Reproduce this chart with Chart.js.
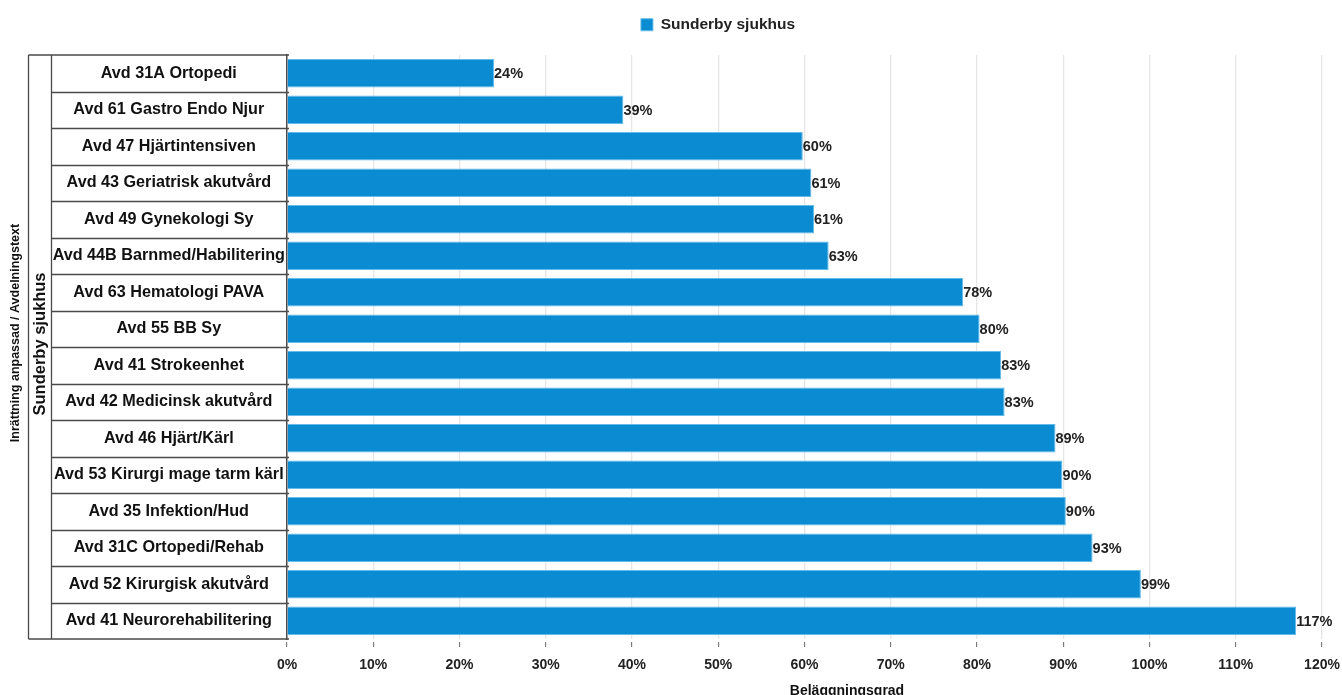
<!DOCTYPE html>
<html><head><meta charset="utf-8">
<script src="https://cdn.jsdelivr.net/npm/chart.js@4.4.1/dist/chart.umd.min.js"></script>
<style>html,body{margin:0;padding:0;background:#fff;overflow:hidden}#wrap{position:relative;width:1342px;height:695px}</style>
</head><body><div id="wrap"><canvas id="c"></canvas></div>
<script>
const categories = [
  'Avd 31A Ortopedi',
  'Avd 61 Gastro Endo Njur',
  'Avd 47 Hjärtintensiven',
  'Avd 43 Geriatrisk akutvård',
  'Avd 49 Gynekologi Sy',
  'Avd 44B Barnmed/Habilitering',
  'Avd 63 Hematologi PAVA',
  'Avd 55 BB Sy',
  'Avd 41 Strokeenhet',
  'Avd 42 Medicinsk akutvård',
  'Avd 46 Hjärt/Kärl',
  'Avd 53 Kirurgi mage tarm kärl',
  'Avd 35 Infektion/Hud',
  'Avd 31C Ortopedi/Rehab',
  'Avd 52 Kirurgisk akutvård',
  'Avd 41 Neurorehabilitering'
];
const seriesName = 'Sunderby sjukhus';
const values = [24.0, 39.0, 59.8, 60.8, 61.1, 62.8, 78.4, 80.3, 82.8, 83.2, 89.1, 89.9, 90.3, 93.4, 99.0, 117.0];
const xTickLabels = ['0%','10%','20%','30%','40%','50%','60%','70%','80%','90%','100%','110%','120%'];
const groupLabel = 'Sunderby sjukhus';
const yTitle = 'Inrättning anpassad / Avdelningstext';
const xTitle = 'Beläggningsgrad';

const FONT = "'Liberation Sans', Arial, Helvetica, sans-serif";
const BOX = '#4a4a4a';

const decor = {
  id: 'decor',
  afterLayout(chart) {
    const lg = chart.legend;
    if (lg) { lg.left += 43; lg.right += 43; }
  },
  afterDraw(chart) {
    const ctx = chart.ctx, a = chart.chartArea;
    const top = a.top, bot = a.bottom, right = a.left;
    const outerL = 28.5, innerL = 51.5;
    ctx.save();
    ctx.strokeStyle = BOX; ctx.lineWidth = 1.3;
    ctx.beginPath();
    ctx.moveTo(outerL, top); ctx.lineTo(outerL, bot);
    ctx.moveTo(innerL, top); ctx.lineTo(innerL, bot);
    ctx.moveTo(outerL, top); ctx.lineTo(right + 2, top);
    ctx.moveTo(outerL, bot); ctx.lineTo(right + 2, bot);
    const n = categories.length;
    const step = (bot - top) / n;
    for (let i = 1; i < n; i++) {
      const yy = Math.round(top + i * step) + 0.5;
      ctx.moveTo(innerL, yy); ctx.lineTo(right + 2, yy);
    }
    ctx.stroke();
    ctx.fillStyle = '#111';
    ctx.textAlign = 'center'; ctx.textBaseline = 'middle';
    ctx.save();
    ctx.translate(40, 344);
    ctx.rotate(-Math.PI / 2);
    ctx.font = 'bold 16.5px ' + FONT;
    ctx.fillText(groupLabel, 0, 0);
    ctx.restore();
    ctx.save();
    ctx.translate(16, 333);
    ctx.rotate(-Math.PI / 2);
    ctx.font = 'bold 12.5px ' + FONT;
    ctx.fillText(yTitle, 0, 0);
    ctx.restore();
    ctx.font = 'bold 14px ' + FONT;
    ctx.textBaseline = 'alphabetic';
    ctx.fillText(xTitle, 847, 695);
    ctx.restore();
  },
  afterDatasetsDraw(chart) {
    const ctx = chart.ctx;
    const meta = chart.getDatasetMeta(0);
    ctx.save();
    ctx.font = 'bold 14.5px ' + FONT;
    ctx.fillStyle = '#222';
    ctx.textAlign = 'left'; ctx.textBaseline = 'middle';
    meta.data.forEach((bar, i) => {
      ctx.fillText(Math.round(values[i]) + '%', bar.x, bar.y + 1);
    });
    ctx.restore();
  }
};

new Chart(document.getElementById('c'), {
  type: 'bar',
  data: {
    labels: categories,
    datasets: [{
      label: seriesName,
      data: values,
      backgroundColor: '#0a8bd2',
      borderColor: '#62bbe9',
      borderWidth: 1,
      barPercentage: 0.78,
      categoryPercentage: 1.0
    }]
  },
  options: {
    indexAxis: 'y',
    responsive: true,
    maintainAspectRatio: false,
    animation: false,
    devicePixelRatio: 1,
    layout: { padding: { left: 28, right: 20, top: 7, bottom: 0 } },
    plugins: {
      legend: {
        display: true,
        position: 'top',
        labels: {
          boxWidth: 12, boxHeight: 12, padding: 10,
          color: '#222',
          font: { family: FONT, size: 15.5, weight: 'bold' }
        }
      },
      tooltip: { enabled: false }
    },
    scales: {
      x: {
        type: 'linear',
        position: 'bottom',
        min: 0, max: 120,
        ticks: {
          stepSize: 10,
          color: '#222',
          padding: 10,
          font: { family: FONT, size: 14, weight: 'bold' },
          callback: (v, i) => xTickLabels[i]
        },
        grid: {
          color: '#e6e6e6', lineWidth: 1.3,
          drawTicks: true, tickLength: 8, tickColor: '#666', tickWidth: 1,
          tickBorderDash: [0, 3, 5, 20]
        },
        border: { display: false },
        afterFit: s => { s.height = 56; s.paddingLeft = 0; s.paddingRight = 0; }
      },
      xTop: {
        type: 'linear', axis: 'x', position: 'top', display: true,
        grid: { display: false }, ticks: { display: false }, border: { display: false },
        afterFit: s => { s.height = 12.5; s.paddingLeft = 0; s.paddingRight = 0; }
      },
      y: {
        type: 'category',
        grid: { display: false },
        border: { display: true, color: BOX, width: 1.5 },
        ticks: {
          crossAlign: 'center',
          padding: -6,
          color: '#111',
          font: { family: FONT, size: 16.2, weight: 'bold' }
        },
        afterFit: s => { s.width = 259; }
      }
    }
  },
  plugins: [decor]
});
</script>
</body></html>
